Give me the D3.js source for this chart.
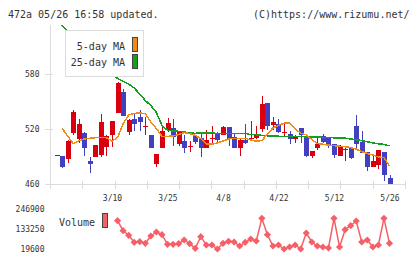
<!DOCTYPE html>
<html>
<head>
<meta charset="utf-8">
<script src="https://cdn.jsdelivr.net/npm/d3@7"></script>
<style>
  html, body { margin: 0; padding: 0; background: #fff; }
  svg { display: block; }
  text { font-family: 'DejaVu Sans Mono', monospace; fill: #333; }
</style>
</head>
<body>
<div id="chart"></div>
<script>
// Precios diarios (61 sesiones, la última = 5/26)
const openP = [
  491, 490.5, 487.6, 516, 509, 516, 485.4, 489.8, 491.6, 500.7,
  513.5, 537.8, 560.4, 517, 530.9, 533, 522.8, 513.5, 482.1, 499.6,
  518.9, 521, 503.6, 507.2, 500.5, 512.4, 510, 499.6, 509.5, 514.5,
  513.5, 522.2, 511.3, 499.6, 508, 509.5, 509.9, 520, 548.4, 524.4,
  525.5, 516.3, 514.5, 509.1, 521.1, 512.4, 490.9, 499.3, 512.4, 510.2,
  503.6, 490.9, 497.8, 499.3, 523.3, 505.8, 494.9, 478.9, 481.1, 494.9,
  467
];
const highP = [
  491.5, 491, 507.5, 540.7, 531, 516.5, 490, 503, 536.7, 513,
  529, 571, 563.6, 530.5, 536.7, 540.7, 533, 513.5, 493, 524.4,
  531.7, 531, 518, 513, 507, 513, 515.3, 518.9, 523.3, 516.7,
  523.3, 522.5, 515.3, 510.2, 525.5, 528.7, 523.3, 556, 548.5, 533.1,
  530.9, 525.5, 517.8, 513.5, 521.1, 512.5, 496, 511.6, 514.5, 510.5,
  504, 502.5, 500.4, 499.5, 535.3, 517.8, 495, 491.6, 497.5, 495,
  470
];
const lowP = [
  491, 477.5, 483.2, 513.5, 504.5, 491, 471.7, 489, 489.8, 491,
  500.7, 537, 534, 513.5, 518, 518, 513, 499.6, 478.9, 499,
  516.7, 502, 502, 494, 495, 504, 489.8, 499, 503.6, 505,
  513, 501.5, 499, 490.9, 503.6, 508, 509, 516.7, 518.9, 518.9,
  515.6, 512.4, 503.6, 504.7, 504.7, 490, 488.7, 497, 504.7, 499.6,
  488.7, 490.5, 485.4, 487.3, 499.6, 494, 474.5, 478.5, 476.7, 463.6,
  459.5
];
const closeP = [
  491.5, 479, 507.2, 538.5, 525.5, 499.6, 482, 502.5, 527.6, 512.4,
  528.7, 570.5, 534.5, 529.8, 525.5, 527.6, 523.2, 499.6, 492.7, 517.8,
  526.9, 511.6, 517.8, 499.6, 501.5, 506.1, 499.6, 508, 510.3, 508,
  522.2, 509.1, 499.6, 508, 504.4, 510.3, 514.2, 547.3, 523.3, 527.6,
  516.7, 517.1, 509.1, 512.4, 513.5, 490.9, 496, 503.6, 506.1, 501.5,
  491.6, 500.4, 498.6, 488.7, 504, 494.1, 478.9, 485.1, 497.1, 470.1,
  459.7
];

// Medias móviles
const ma5 = [
  null, 520.8, 512.4, 504.2, 506.9, 509.1, 509.9, 510.5, 510.5, 510.5,
  506.9, 510.7, 525.5, 535.3, 537.1, 537.4, 536.9, 527.6, 520.5, 512,
  512, 512.4, 514, 516, 515.1, 512.9, 509.6, 503.6, 503.6, 504.7,
  506.9, 509.1, 509.9, 509.9, 509.9, 508, 506.7, 507.5, 514.5, 521.1,
  523.8, 526.3, 526.5, 520, 515.6, 513.5, 508.5, 504.2, 503.3, 502.5,
  501.8, 501.2, 500.6, 499.8, 498, 495.5, 493.3, 491.6, 489.5, 488.7,
  479.6
];
const ma25 = [
  638.9, 632.4, 626.4, 620.4, 614.4, 608.4, 602.4, 596.4, 590.9, 585.5,
  580, 575.1, 572, 569.1, 564.7, 558.2, 551.1, 545.6, 538, 524,
  518.5, 517.8, 517.5, 516.9, 515.6, 515.3, 515.9, 515.6, 515.4, 515.3,
  515.3, 515.1, 515.1, 515.1, 515.1, 514, 513.7, 513.1, 512.6, 512.4,
  512.1, 511.9, 511.7, 511.6, 511.6, 511.5, 511.5, 511.3, 510.9, 510.7,
  510.4, 510.2, 510, 509.1, 508.3, 507.5, 506.1, 504.7, 503.9, 503.3,
  501.5
];

// Volumen (empieza en la sesión 11)
const volStart = 11;
const volume = [
  179200, 122800, 96900, 57400, 60800, 51700, 92900, 115500, 100300, 46100,
  46100, 49500, 70400, 49500, 23500, 89000, 42200, 42200, 19600, 51700,
  63000, 59100, 36500, 57400, 76000, 64700, 192700, 100300, 36500, 42200,
  19600, 30900, 42200, 19600, 109800, 59100, 36500, 30900, 25200, 192700,
  30900, 128500, 151000, 177500, 59100, 70400, 30900, 42200, 192700, 51700
];

// Etiquetas
const yTicks = [460, 520, 580];
const volTicks = [246900, 133250, 19600];
const xLabelIdx = [10, 20, 30, 40, 50, 60];
const xLabelText = ['3/10', '3/25', '4/8', '4/22', '5/12', '5/26'];

const W = 420, H = 259;
const plotLeft = 50, plotRight = 405, plotTop = 25, plotBottom = 184;
const colorUp = '#d8000e', colorDown = '#4040c0';
const colorMa5 = '#f08a14', colorMa25 = '#14a01e', colorVol = '#f55f67';
const axisColor = '#dcdcdc';

const svg = d3.select('#chart').append('svg')
  .attr('width', W)
  .attr('height', H);

svg.append('rect').attr('width', W).attr('height', H).attr('fill', '#fff');

// Escalas
const x = d3.scaleLinear().domain([0, closeP.length - 1]).range([56.5, 389.5]);
const y = d3.scaleLinear().domain([460, 580]).range([184, 74]);
const tickX = d3.scaleLinear().domain([0, 11]).range([plotLeft, plotRight]);
const yv = d3.scaleLinear().domain([19600, 246900]).range([249, 208.7]);

// Cabecera
svg.append('text')
  .attr('x', 8).attr('y', 18)
  .attr('font-size', 10)
  .text('472a 05/26 16:58 updated.');

svg.append('text')
  .attr('x', 409.5).attr('y', 18)
  .attr('text-anchor', 'end')
  .attr('font-size', 10)
  .text('(C)https://www.rizumu.net/');

// Ejes
const axes = svg.append('g').attr('shape-rendering', 'crispEdges').attr('stroke', axisColor);

axes.append('line')
  .attr('x1', plotLeft + 0.5).attr('x2', plotLeft + 0.5)
  .attr('y1', plotTop).attr('y2', plotBottom + 5);

axes.append('line')
  .attr('x1', plotLeft - 5).attr('x2', plotRight)
  .attr('y1', plotBottom + 0.5).attr('y2', plotBottom + 0.5);

axes.selectAll('.ytick')
  .data(yTicks)
  .join('line')
  .attr('class', 'ytick')
  .attr('x1', plotLeft - 5).attr('x2', plotLeft + 3)
  .attr('y1', d => Math.round(y(d)) + 0.5)
  .attr('y2', d => Math.round(y(d)) + 0.5);

axes.selectAll('.xtick')
  .data(d3.range(12))
  .join('line')
  .attr('class', 'xtick')
  .attr('x1', d => Math.round(tickX(d)) + 0.5)
  .attr('x2', d => Math.round(tickX(d)) + 0.5)
  .attr('y1', plotBottom - 3).attr('y2', plotBottom + 5);

svg.selectAll('.ylabel')
  .data(yTicks)
  .join('text')
  .attr('class', 'ylabel')
  .attr('x', 39.5)
  .attr('y', d => y(d) + 3)
  .attr('text-anchor', 'end')
  .attr('font-size', 8)
  .text(d => d);

svg.selectAll('.xlabel')
  .data(xLabelIdx)
  .join('text')
  .attr('class', 'xlabel')
  .attr('x', d => x(d) + 0.5)
  .attr('y', 200.5)
  .attr('text-anchor', 'middle')
  .attr('font-size', 8)
  .text((d, i) => xLabelText[i]);

// Recorte del área de precios
svg.append('clipPath').attr('id', 'plotClip')
  .append('rect')
  .attr('x', plotLeft).attr('y', plotTop)
  .attr('width', plotRight - plotLeft).attr('height', plotBottom - plotTop);

const plot = svg.append('g').attr('clip-path', 'url(#plotClip)');

// Velas
const candles = plot.append('g').attr('shape-rendering', 'crispEdges');

closeP.forEach((c, i) => {
  const o = openP[i];
  const col = c >= o ? colorUp : colorDown;
  const cx = Math.round(x(i));
  const yHi = y(highP[i]), yLo = y(lowP[i]);

  candles.append('rect')
    .attr('x', cx).attr('width', 1)
    .attr('y', yHi).attr('height', Math.max(1, yLo - yHi))
    .attr('fill', col);

  const top = y(Math.max(o, c));
  const bot = y(Math.min(o, c));
  candles.append('rect')
    .attr('x', cx - 2).attr('width', 5)
    .attr('y', top).attr('height', Math.max(1, bot - top))
    .attr('fill', col);
});

// Medias móviles
const maLine = d3.line()
  .defined(d => d != null)
  .x((d, i) => x(i))
  .y(d => y(d));

plot.append('path')
  .datum(ma25)
  .attr('d', maLine)
  .attr('fill', 'none')
  .attr('stroke', colorMa25)
  .attr('stroke-width', 1.5)
  .attr('shape-rendering', 'crispEdges');

plot.append('path')
  .datum(ma5)
  .attr('d', maLine)
  .attr('fill', 'none')
  .attr('stroke', colorMa5)
  .attr('stroke-width', 1.5)
  .attr('shape-rendering', 'crispEdges');

// Leyenda
const legend = svg.append('g').attr('shape-rendering', 'crispEdges');
legend.append('rect')
  .attr('x', 65.5).attr('y', 30.5)
  .attr('width', 78).attr('height', 46)
  .attr('fill', '#fff')
  .attr('stroke', axisColor);

[['5-day MA', colorMa5], ['25-day MA', colorMa25]].forEach(([label, col], k) => {
  legend.append('text')
    .attr('x', 125).attr('y', 49.5 + k * 16.5)
    .attr('text-anchor', 'end')
    .attr('font-size', 10)
    .text(label);
  legend.append('rect')
    .attr('x', 132).attr('y', 37.5 + k * 17)
    .attr('width', 5).attr('height', 14)
    .attr('fill', col)
    .attr('stroke', '#444');
});

// Volumen
svg.selectAll('.vlabel')
  .data(volTicks)
  .join('text')
  .attr('class', 'vlabel')
  .attr('x', 44.5)
  .attr('y', d => yv(d) + 3)
  .attr('text-anchor', 'end')
  .attr('font-size', 8)
  .text(d => d);

svg.append('text')
  .attr('x', 59).attr('y', 226)
  .attr('font-size', 10)
  .text('Volume');

svg.append('rect')
  .attr('x', 102).attr('y', 213.5)
  .attr('width', 5).attr('height', 14)
  .attr('fill', colorVol)
  .attr('stroke', '#444')
  .attr('shape-rendering', 'crispEdges');

const volLine = d3.line()
  .x((d, i) => x(i + volStart))
  .y(d => yv(d));

svg.append('path')
  .datum(volume)
  .attr('d', volLine)
  .attr('fill', 'none')
  .attr('stroke', colorVol)
  .attr('stroke-width', 1.5);

const diamond = d3.symbol().type(d3.symbolSquare).size(26);
svg.append('g')
  .selectAll('path')
  .data(volume)
  .join('path')
  .attr('d', diamond)
  .attr('transform', (d, i) => `translate(${x(i + volStart)},${yv(d)}) rotate(45)`)
  .attr('fill', colorVol);
</script>
</body>
</html>
